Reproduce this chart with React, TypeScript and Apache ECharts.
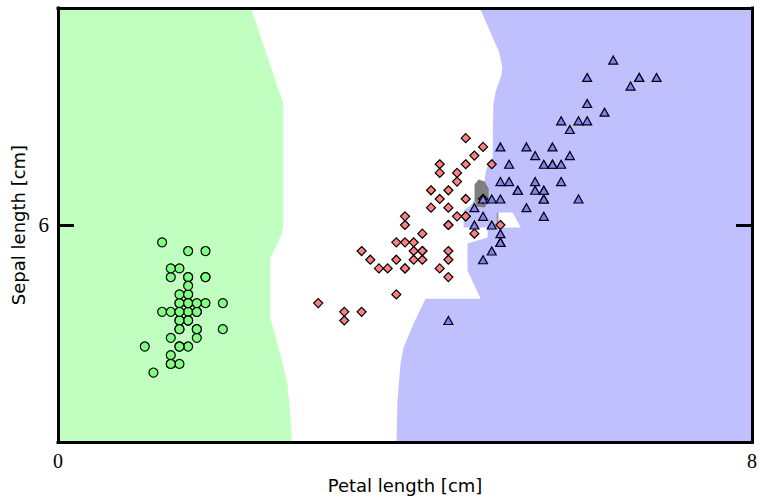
import React, { useEffect, useRef } from "react";
import * as echarts from "echarts";

// Iris data: sepal length (y) and petal length (x), in cm
const setosaSepal = [5.1,4.9,4.7,4.6,5.0,5.4,4.6,5.0,4.4,4.9,5.4,4.8,4.8,4.3,5.8,5.7,5.4,5.1,5.7,5.1,5.4,5.1,4.6,5.1,4.8,5.0,5.0,5.2,5.2,4.7,4.8,5.4,5.2,5.5,4.9,5.0,5.5,4.9,4.4,5.1,5.0,4.5,4.4,5.0,5.1,4.8,5.1,4.6,5.3,5.0];
const setosaPetal = [1.4,1.4,1.3,1.5,1.4,1.7,1.4,1.5,1.4,1.5,1.5,1.6,1.4,1.1,1.2,1.5,1.3,1.4,1.7,1.5,1.7,1.5,1.0,1.7,1.9,1.6,1.6,1.5,1.4,1.6,1.6,1.5,1.5,1.4,1.5,1.2,1.3,1.4,1.3,1.5,1.3,1.3,1.3,1.6,1.9,1.4,1.6,1.4,1.5,1.4];
const versicolorSepal = [7.0,6.4,6.9,5.5,6.5,5.7,6.3,4.9,6.6,5.2,5.0,5.9,6.0,6.1,5.6,6.7,5.6,5.8,6.2,5.6,5.9,6.1,6.3,6.1,6.4,6.6,6.8,6.7,6.0,5.7,5.5,5.5,5.8,6.0,5.4,6.0,6.7,6.3,5.6,5.5,5.5,6.1,5.8,5.0,5.6,5.7,5.7,6.2,5.1,5.7];
const versicolorPetal = [4.7,4.5,4.9,4.0,4.6,4.5,4.7,3.3,4.6,3.9,3.5,4.2,4.0,4.7,3.6,4.4,4.5,4.1,4.5,3.9,4.8,4.0,4.9,4.7,4.3,4.4,4.8,5.0,4.5,3.5,3.8,3.7,3.9,5.1,4.5,4.5,4.7,4.4,4.1,4.0,4.4,4.6,4.0,3.3,4.2,4.2,4.2,4.3,3.0,4.1];
const virginicaSepal = [6.3,5.8,7.1,6.3,6.5,7.6,4.9,7.3,6.7,7.2,6.5,6.4,6.8,5.7,5.8,6.4,6.5,7.7,7.7,6.0,6.9,5.6,7.7,6.3,6.7,7.2,6.2,6.1,6.4,7.2,7.4,7.9,6.4,6.3,6.1,7.7,6.3,6.4,6.0,6.9,6.7,6.9,5.8,6.8,6.7,6.7,6.3,6.5,6.2,5.9];
const virginicaPetal = [6.0,5.1,5.9,5.6,5.8,6.6,4.5,6.3,5.8,6.1,5.1,5.3,5.5,5.0,5.1,5.3,5.5,6.7,6.9,5.0,5.7,4.9,6.7,4.9,5.7,6.0,4.8,4.9,5.6,5.8,6.1,6.4,5.6,5.1,5.6,6.1,5.6,5.5,4.8,5.4,5.6,5.1,5.1,5.9,5.7,5.2,5.0,5.2,5.4,5.1];

// Decision regions: polygon vertices [petal length, sepal length]
const setosaRegion: number[][] = [
  [0, 8.5], [2.225, 8.5], [2.563, 7.495], [2.597, 7.403], [2.597, 5.994], [2.582, 5.902],
  [2.447, 5.613], [2.447, 4.932], [2.563, 4.516], [2.644, 4.17], [2.678, 3.823], [2.698, 3.5], [0, 3.5],
];
const virginicaRegion: number[][] = [
  [4.863, 8.5], [5.083, 7.995], [5.122, 7.822], [5.111, 7.726], [5.045, 7.534], [5.018, 7.38],
  [5.01, 6.779], [4.964, 6.71], [4.929, 6.606], [4.918, 6.514], [4.825, 6.341], [4.756, 6.225],
  [4.675, 6.167], [4.675, 5.971], [4.952, 5.971], [4.952, 5.856], [4.721, 5.786], [4.721, 5.475],
  [4.872, 5.151], [4.237, 5.151], [4.098, 4.863], [3.983, 4.585], [3.948, 4.401], [3.913, 3.973],
  [3.902, 3.5], [8, 3.5], [8, 8.5],
];
const versicolorPocket: number[][] = [[5.068, 6.144], [5.241, 6.144], [5.333, 5.971], [5.068, 5.971]];
const tieRegion: number[][] = [
  [4.848, 6.525], [4.918, 6.502], [4.964, 6.421], [4.964, 6.271], [4.918, 6.202],
  [4.825, 6.214], [4.802, 6.306], [4.802, 6.468],
];
const tieSliver: number[][] = [[5.056, 6.144], [5.078, 6.144], [5.078, 5.971], [5.056, 5.971]];

const xTicks = [0, 8];
const yTicks = [6];

const zip = (xs: number[], ys: number[]) => xs.map((x, i) => [x, ys[i]]);

function regionSeries(poly: number[][], fill: string, z: number) {
  return {
    type: "custom",
    z,
    silent: true,
    data: [poly[0]],
    renderItem: (_params: any, api: any) => ({
      type: "polygon",
      shape: { points: poly.map((p) => api.coord(p)) },
      style: { fill, stroke: null },
    }),
  };
}

export default function App() {
  const ref = useRef<HTMLDivElement>(null);
  useEffect(() => {
    if (!ref.current) return;
    const chart = echarts.init(ref.current, null, { renderer: "svg" });
    const serif = "'Liberation Serif', 'DejaVu Serif', serif";
    const sans = "'DejaVu Sans', sans-serif";
    const frame = { show: true, onZero: false, lineStyle: { color: "#000", width: 3, cap: "square" } };
    const grid = { left: 58, top: 8, width: 694, height: 434, outerBoundsMode: "none", containLabel: false };
    chart.setOption({
      animation: false,
      backgroundColor: "#fff",
      grid,
      xAxis: [
        {
          type: "value", min: 0, max: 8, interval: 8, position: "bottom", z: 10,
          axisLine: frame, axisTick: { show: false }, splitLine: { show: false },
          axisLabel: { show: true, showMinLabel: true, showMaxLabel: true, customValues: xTicks, margin: 9, fontFamily: serif, fontSize: 20, color: "#000" },
          name: "Petal length [cm]", nameLocation: "middle", nameGap: 34,
          nameTextStyle: { fontFamily: sans, fontSize: 18, color: "#000" },
        },
        {
          type: "value", min: 0, max: 8, position: "top", z: 10,
          axisLine: frame, axisTick: { show: false }, axisLabel: { show: false }, splitLine: { show: false },
        },
      ],
      yAxis: [
        {
          type: "value", min: 3.5, max: 8.5, position: "left", z: 10,
          axisLine: frame, splitLine: { show: false },
          axisTick: { show: true, inside: true, length: 16, customValues: yTicks, lineStyle: { color: "#000", width: 3 } },
          axisLabel: { show: true, customValues: yTicks, margin: 9, fontFamily: serif, fontSize: 21, color: "#000" },
          name: "Sepal length [cm]", nameLocation: "middle", nameGap: 30,
          nameTextStyle: { fontFamily: sans, fontSize: 18, color: "#000" },
        },
        {
          type: "value", min: 3.5, max: 8.5, position: "right", z: 10,
          axisLine: frame, splitLine: { show: false }, axisLabel: { show: false },
          axisTick: { show: true, inside: true, length: 16, customValues: yTicks, lineStyle: { color: "#000", width: 3 } },
        },
      ],
      series: [
        regionSeries(setosaRegion, "#c0ffc0", 1),
        regionSeries(virginicaRegion, "#c0c0ff", 1),
        regionSeries(versicolorPocket, "#ffffff", 1.5),
        regionSeries(tieRegion, "#7f7f7f", 1.6),
        regionSeries(tieSliver, "#9a9a9a", 1.6),
        {
          type: "scatter", name: "setosa", symbol: "circle", symbolSize: 9, z: 3,
          data: zip(setosaPetal, setosaSepal),
          itemStyle: { color: "#80ff80", borderColor: "#000", borderWidth: 1.2, opacity: 1 },
        },
        {
          type: "scatter", name: "versicolor", symbol: "diamond", symbolSize: [9, 9], z: 3,
          data: zip(versicolorPetal, versicolorSepal),
          itemStyle: { color: "#ff8080", borderColor: "#000", borderWidth: 1.2, opacity: 1 },
        },
        {
          type: "scatter", name: "virginica", symbol: "triangle", symbolSize: [9, 8], z: 3,
          data: zip(virginicaPetal, virginicaSepal),
          itemStyle: { color: "#8080ff", borderColor: "#000", borderWidth: 1.2, opacity: 1 },
        },
      ],
    });
    return () => chart.dispose();
  }, []);
  return (
    <div
      ref={ref}
      style={{ position: "fixed", left: 0, top: 0, width: 760, height: 498, background: "#fff" }}
    />
  );
}
